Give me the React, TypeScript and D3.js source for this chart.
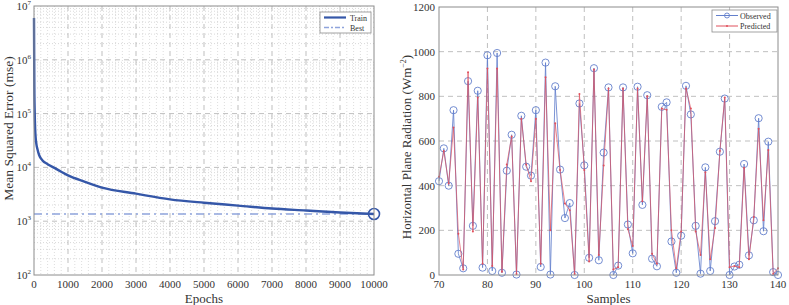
import React from 'react';
import * as d3 from 'd3';

// training curve (log scale mse)
const epochs = [0, 5, 10, 20, 35, 50, 75, 100, 150, 250, 400, 600, 800, 1000, 1500, 2000, 3000, 4000, 5000, 6000, 7000, 8000, 9000, 10000];
const trainMse = [6.0e6, 1.2e6, 3.0e5, 1.1e5, 5.0e4, 3.5e4, 2.6e4, 2.2e4, 1.7e4, 1.35e4, 1.15e4, 9.8e3, 8.3e3, 7.1e3, 5.4e3, 4.2e3, 3.25e3, 2.55e3, 2.2e3, 1.95e3, 1.72e3, 1.58e3, 1.45e3, 1.36e3];
const bestMse = 1360;
const bestEpoch = 10000;

// observed vs predicted radiation, samples 70..140
const samples = d3.range(70, 141);
const observed = [420, 567, 400, 738, 95, 30, 868, 220, 825, 33, 984, 18, 994, 10, 467, 628, 2, 713, 485, 445, 738, 36, 951, 2, 845, 472, 255, 322, 0, 768, 491, 77, 926, 66, 548, 840, 0, 42, 840, 226, 97, 843, 314, 805, 73, 39, 753, 773, 150, 10, 176, 847, 719, 220, 6, 482, 18, 241, 552, 790, 0, 38, 46, 497, 88, 245, 702, 196, 597, 13, 0];
const predicted = [440, 555, 410, 660, 185, 25, 908, 195, 795, 50, 925, 40, 925, 15, 495, 620, 5, 700, 495, 420, 700, 50, 885, 200, 680, 470, 320, 290, 5, 810, 470, 60, 920, 90, 490, 835, 25, 35, 835, 205, 130, 835, 330, 800, 95, 50, 745, 740, 200, 30, 195, 835, 745, 195, 90, 460, 70, 210, 555, 795, 35, 40, 35, 480, 70, 260, 655, 245, 560, 5, 30];

const epochTicks = d3.range(0, 10001, 1000);
const decades = [2, 3, 4, 5, 6, 7];
const sampleTicks = d3.range(70, 141, 10);
const radTicks = d3.range(0, 1201, 200);

const FONT = '"Liberation Serif", "DejaVu Serif", serif';
const GRID = '#b8b8b8';
const AXIS = '#8c8c8c';
const TXT = '#333';

function LossChart() {
  const L = 34, R = 374, T = 6, B = 275;
  const x = d3.scaleLinear().domain([0, 10000]).range([L, R]);
  const y = d3.scaleLog().domain([1e2, 1e7]).range([B, T]);
  const line = d3.line<number>().x((_, i) => x(epochs[i])).y((d) => y(d)).curve(d3.curveMonotoneX);
  const minorY: number[] = [];
  decades.slice(0, -1).forEach((p) => {
    for (let k = 2; k < 10; k++) minorY.push(k * Math.pow(10, p));
  });
  const minorX = d3.range(200, 10000, 200).filter((v) => v % 1000 !== 0);
  return (
    <g fontFamily={FONT}>
      {minorX.map((v) => (
        <line key={'mx' + v} x1={x(v)} x2={x(v)} y1={T} y2={B} stroke="#d0d0d0" strokeWidth={0.7} strokeDasharray="1,2" />
      ))}
      {minorY.map((v) => (
        <line key={'my' + v} x1={L} x2={R} y1={y(v)} y2={y(v)} stroke="#c8c8c8" strokeWidth={0.7} strokeDasharray="1,2" />
      ))}
      {epochTicks.slice(1, -1).map((v) => (
        <line key={'gx' + v} x1={x(v)} x2={x(v)} y1={T} y2={B} stroke={GRID} strokeWidth={0.9} strokeDasharray="5,4" />
      ))}
      {decades.slice(1, -1).map((p) => (
        <line key={'gy' + p} x1={L} x2={R} y1={y(Math.pow(10, p))} y2={y(Math.pow(10, p))} stroke={GRID} strokeWidth={0.9} strokeDasharray="5,4" />
      ))}
      <line x1={L} x2={R} y1={y(bestMse)} y2={y(bestMse)} stroke="#8fa4dc" strokeWidth={1.5} strokeDasharray="8,4,2,4" />
      <path d={line(trainMse) || ''} fill="none" stroke="#3557a8" strokeWidth={2.4} />
      <circle cx={x(bestEpoch)} cy={y(bestMse)} r={5.5} fill="none" stroke="#3557a8" strokeWidth={1.6} />
      <rect x={L} y={T} width={R - L} height={B - T} fill="none" stroke={AXIS} strokeWidth={1} />
      {epochTicks.map((v) => (
        <text key={'tx' + v} x={x(v)} y={B + 13} textAnchor="middle" fontSize={11} fill={TXT}>{v}</text>
      ))}
      {decades.map((p) => (
        <text key={'ty' + p} x={L - 3} y={y(Math.pow(10, p)) + 4} textAnchor="end" fontSize={11} fill={TXT}>
          10<tspan dy={-5} fontSize={7}>{p}</tspan>
        </text>
      ))}
      <text x={(L + R) / 2} y={303} textAnchor="middle" fontSize={13} fill={TXT}>Epochs</text>
      <text transform={`translate(13,${(T + B) / 2 - 12}) rotate(-90)`} textAnchor="middle" fontSize={13.5} fill={TXT}>Mean Squared Error  (mse)</text>
      <g>
        <rect x={320} y={12} width={51} height={21} fill="#fff" stroke={AXIS} strokeWidth={0.8} />
        <line x1={324} x2={346} y1={17.5} y2={17.5} stroke="#3557a8" strokeWidth={2.2} />
        <text x={350} y={20.5} fontSize={8} fill={TXT}>Train</text>
        <line x1={324} x2={346} y1={27.5} y2={27.5} stroke="#8fa4dc" strokeWidth={1.3} strokeDasharray="5,2,2,2" />
        <text x={350} y={30.5} fontSize={8} fill={TXT}>Best</text>
      </g>
    </g>
  );
}

function RadiationChart() {
  const L = 439, R = 778, T = 7, B = 275;
  const x = d3.scaleLinear().domain([70, 140]).range([L, R]);
  const y = d3.scaleLinear().domain([0, 1200]).range([B, T]);
  const line = d3.line<number>().x((_, i) => x(samples[i])).y((d) => y(d));
  const BLUE = '#6480cc';
  const RED = '#e0505c';
  return (
    <g fontFamily={FONT}>
      {sampleTicks.slice(1, -1).map((v) => (
        <line key={'gx' + v} x1={x(v)} x2={x(v)} y1={T} y2={B} stroke={GRID} strokeWidth={0.9} strokeDasharray="5,4" />
      ))}
      {radTicks.slice(1, -1).map((v) => (
        <line key={'gy' + v} x1={L} x2={R} y1={y(v)} y2={y(v)} stroke={GRID} strokeWidth={0.9} strokeDasharray="5,4" />
      ))}
      <path d={line(observed) || ''} fill="none" stroke={BLUE} strokeWidth={1} strokeOpacity={0.85} />
      {observed.map((v, i) => (
        <circle key={'o' + i} cx={x(samples[i])} cy={y(v)} r={3.6} fill="none" stroke={BLUE} strokeWidth={0.9} />
      ))}
      <path d={line(predicted) || ''} fill="none" stroke={RED} strokeWidth={1} strokeOpacity={0.7} />
      {predicted.map((v, i) => (
        <circle key={'p' + i} cx={x(samples[i])} cy={y(v)} r={1} fill={RED} />
      ))}
      <rect x={L} y={T} width={R - L} height={B - T} fill="none" stroke={AXIS} strokeWidth={1} />
      {sampleTicks.map((v) => (
        <text key={'tx' + v} x={x(v)} y={B + 13} textAnchor="middle" fontSize={11} fill={TXT}>{v}</text>
      ))}
      {radTicks.map((v) => (
        <text key={'ty' + v} x={L - 4} y={y(v) + 4} textAnchor="end" fontSize={11} fill={TXT}>{v}</text>
      ))}
      <text x={(L + R) / 2} y={303} textAnchor="middle" fontSize={13} fill={TXT}>Samples</text>
      <text transform={`translate(411,${(T + B) / 2 + 6}) rotate(-90)`} textAnchor="middle" fontSize={13} fill={TXT}>
        Horizontal Plane Radiation (Wm<tspan dy={-5} fontSize={8}>−2</tspan><tspan dy={5}>)</tspan>
      </text>
      <g>
        <rect x={712} y={10} width={65} height={22} fill="#fff" stroke={AXIS} strokeWidth={0.8} />
        <line x1={716} x2={738} y1={15.5} y2={15.5} stroke={BLUE} strokeWidth={1} />
        <circle cx={727} cy={15.5} r={2.5} fill="none" stroke={BLUE} strokeWidth={0.9} />
        <text x={740} y={18.5} fontSize={8} fill={TXT}>Observed</text>
        <line x1={716} x2={738} y1={26} y2={26} stroke={RED} strokeWidth={1} />
        <circle cx={727} cy={26} r={1} fill={RED} />
        <text x={740} y={29} fontSize={8} fill={TXT}>Predicted</text>
      </g>
    </g>
  );
}

export default function App() {
  return (
    <svg width={789} height={305} style={{ position: 'absolute', left: 0, top: 0, background: '#fff' }}>
      <LossChart />
      <RadiationChart />
    </svg>
  );
}
